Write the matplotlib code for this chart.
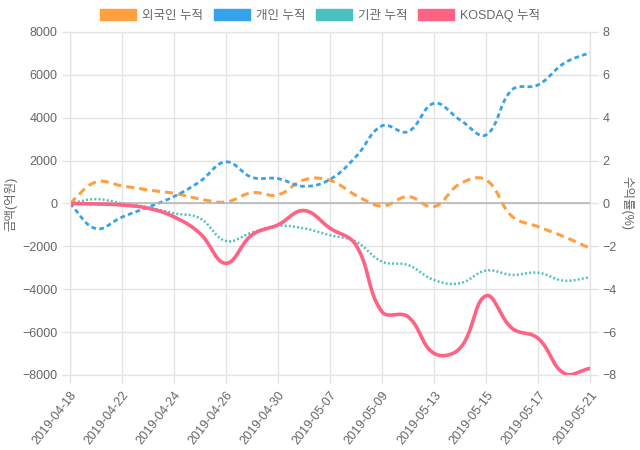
import numpy as np
import matplotlib.pyplot as plt
from matplotlib.patches import Patch

plt.rcParams['font.family'] = ['Liberation Sans', 'Noto Sans CJK KR']
plt.rcParams['lines.scale_dashes'] = False

# trading days (labels shown every other day)
dates = ['2019-04-18', '2019-04-19', '2019-04-22', '2019-04-23', '2019-04-24', '2019-04-25',
         '2019-04-26', '2019-04-29', '2019-04-30', '2019-05-02', '2019-05-07', '2019-05-08',
         '2019-05-09', '2019-05-10', '2019-05-13', '2019-05-14', '2019-05-15', '2019-05-16',
         '2019-05-17', '2019-05-20', '2019-05-21']

# cumulative net buying (억원)
foreign = [0, 1000, 820, 630, 480, 210, 70, 500, 400, 1100, 1080, 380, -120, 320, -150,
           920, 1100, -600, -1080, -1550, -2090]
individual = [0, -1170, -640, -180, 320, 1020, 1940, 1220, 1160, 800, 1120, 2180, 3620,
              3350, 4670, 3900, 3200, 5300, 5530, 6540, 7040]
institution = [0, 200, 10, -180, -460, -690, -1750, -1360, -1050, -1160, -1480, -1780,
               -2710, -2870, -3570, -3720, -3130, -3330, -3230, -3600, -3440]
# KOSDAQ cumulative return (%)
kosdaq = [0, -0.02, -0.07, -0.22, -0.62, -1.39, -2.79, -1.47, -1.0, -0.33, -1.15, -1.94,
          -5.05, -5.28, -6.99, -6.75, -4.31, -5.82, -6.29, -7.92, -7.69]

labels = ['외국인 누적', '개인 누적', '기관 누적', 'KOSDAQ 누적']
colors = ['#ff9f40', '#36a2eb', '#4bc0c0', '#ff6384']
grey = '#666666'


def spline(ys, yscale, t=0.4, steps=24):
    # same bezier smoothing as chart.js (tension 0.4), computed in pixel space
    n = len(ys)
    px = np.arange(n) * 26.0
    py = np.asarray(ys, float) * yscale
    pts = np.column_stack([px, py])
    cprev = np.zeros((n, 2))
    cnext = np.zeros((n, 2))
    for i in range(n):
        p0 = pts[max(i - 1, 0)]
        p1 = pts[i]
        p2 = pts[min(i + 1, n - 1)]
        d01 = np.hypot(*(p1 - p0))
        d12 = np.hypot(*(p2 - p1))
        tot = d01 + d12
        s01 = d01 / tot if tot else 0
        s12 = d12 / tot if tot else 0
        cprev[i] = p1 - t * s01 * (p2 - p0)
        cnext[i] = p1 + t * s12 * (p2 - p0)
    u = np.linspace(0, 1, steps)[:, None]
    out = [pts[:1]]
    for i in range(n - 1):
        a, b, c, d = pts[i], cnext[i], cprev[i + 1], pts[i + 1]
        seg = ((1 - u) ** 3) * a + 3 * ((1 - u) ** 2) * u * b + 3 * (1 - u) * u ** 2 * c + u ** 3 * d
        out.append(seg[1:])
    out = np.vstack(out)
    return out[:, 0] / 26.0, out[:, 1] / yscale


fig = plt.figure(figsize=(6.4, 4.5), dpi=100)
ax = fig.add_axes([0.109, 0.1667, 0.813, 0.7623])
ax2 = ax.twinx()

sx, sy = spline(foreign, 21.44 / 1000)
ax.plot(sx, sy, color=colors[0], lw=2.2, linestyle=(0, (5.8, 3.6)))
sx, sy = spline(individual, 21.44 / 1000)
ax.plot(sx, sy, color=colors[1], lw=2.0, linestyle=(0, (3.4, 2.4)))
sx, sy = spline(institution, 21.44 / 1000)
ax.plot(sx, sy, color=colors[2], lw=1.8, linestyle=(0, (1.4, 1.6)))
sx, sy = spline(kosdaq, 21.44)
ax2.plot(sx, sy, color=colors[3], lw=2.6, solid_capstyle='round')

ax.set_xlim(0, len(dates) - 1)
ax.set_ylim(-8000, 8000)
ax2.set_ylim(-8, 8)
ax.set_yticks(range(-8000, 8001, 2000))
ax2.set_yticks(range(-8, 9, 2))
ax.set_xticks(range(0, len(dates), 2))
ax.set_xticklabels(dates[::2], rotation=52, ha='right', rotation_mode='anchor')

ax.grid(True, color='#e3e3e3', lw=1)
ax.axhline(0, color='#b3b3b3', lw=1.1)
for a in (ax, ax2):
    for s in a.spines.values():
        s.set_color('#e3e3e3')
    a.tick_params(colors='#e3e3e3', labelcolor=grey, labelsize=9, length=6, width=1, pad=3)
ax.tick_params(axis='x', pad=4)

ax.set_ylabel('금액(억원)', color=grey, fontsize=9, labelpad=3)
ax2.set_ylabel('수익률(%)', color=grey, fontsize=9, rotation=270, labelpad=12)

handles = [Patch(facecolor=c, edgecolor=c) for c in colors]
fig.legend(handles, labels, loc='center', bbox_to_anchor=(0.5, 0.966), ncol=4, frameon=False,
           fontsize=9, handlelength=2.9, handleheight=1.0, handletextpad=0.5,
           columnspacing=0.8, labelcolor=grey)

fig.savefig('out.png', dpi=100)
